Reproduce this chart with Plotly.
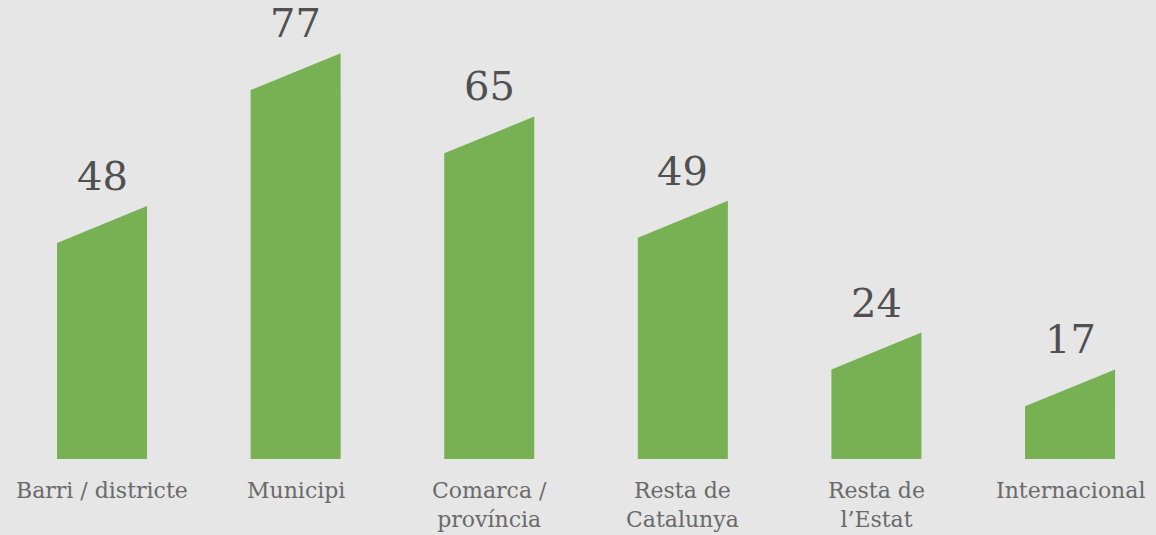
import plotly.graph_objects as go

categories = ["Barri / districte", "Municipi", "Comarca /<br>província", "Resta de<br>Catalunya", "Resta de<br>l’Estat", "Internacional"]
values = [48, 77, 65, 49, 24, 17]

BAR_W = 0.465
SLANT = 7.0
GREEN = "#78b153"
BG = "#e6e6e6"
FONT = "DejaVu Serif"

fig = go.Figure()
for i, v in enumerate(values):
    x0, x1 = i - BAR_W / 2, i + BAR_W / 2
    fig.add_trace(go.Scatter(
        x=[x0, x0, x1, x1, x0],
        y=[0, v - SLANT, v, 0, 0],
        fill="toself", fillcolor=GREEN, mode="lines",
        line=dict(width=0, color=GREEN), hoverinfo="skip", showlegend=False,
    ))
    fig.add_annotation(x=i, y=v, text=str(v), showarrow=False, yanchor="bottom",
                       yshift=5, font=dict(family=FONT, size=40, color="#505050"))
    fig.add_annotation(x=i, y=0, yref="y", text=categories[i], showarrow=False,
                       yanchor="top", yshift=-17, align="center",
                       font=dict(family=FONT, size=22, color="#6a6a6a"))

fig.update_layout(
    width=1156, height=535,
    margin=dict(l=0, r=0, t=0, b=76),
    paper_bgcolor=BG, plot_bgcolor=BG,
    xaxis=dict(range=[-0.527, 5.444], visible=False, fixedrange=True),
    yaxis=dict(range=[0, 87.1], visible=False, fixedrange=True),
)
fig.write_html("out.html", config={"displayModeBar": False},
               post_script="document.body.style.margin='0';document.body.style.overflow='hidden';")
